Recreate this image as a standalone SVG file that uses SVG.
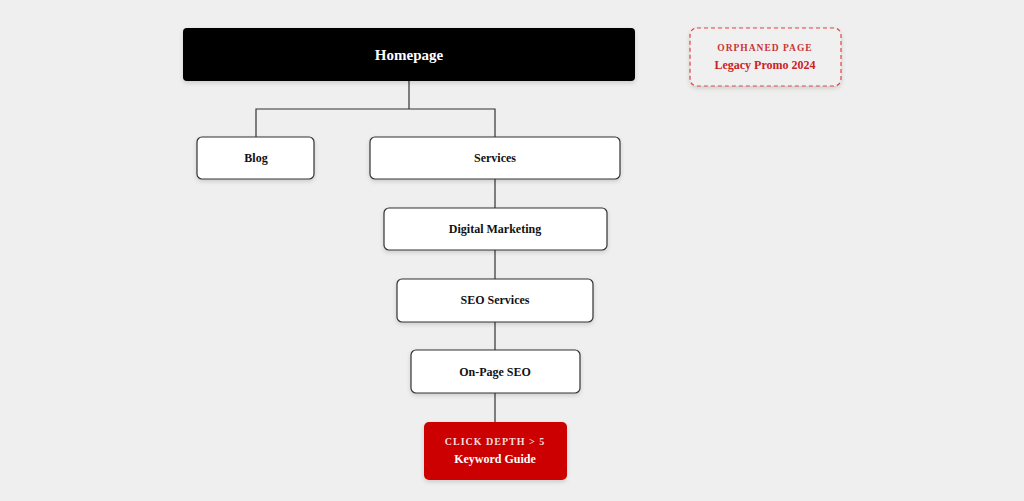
<svg xmlns="http://www.w3.org/2000/svg" width="1024" height="501" viewBox="0 0 1024 501">
<defs>
<style>
.n{fill:#fff;stroke:#333;stroke-width:1.2}
.t{font-family:"Liberation Serif",serif;font-weight:bold;font-size:12px;fill:#111;text-anchor:middle}
.c{fill:none;stroke:#333;stroke-width:1.2}
</style>
<filter id="sh" x="-20%" y="-30%" width="140%" height="160%"><feDropShadow dx="0" dy="2" stdDeviation="2" flood-opacity="0.15"/></filter>
</defs>
<rect width="1024" height="501" fill="#efefef"/>
<g id="connectors" class="c">
<path d="M409 81V109H256V137M409 109H495V137"/>
<path d="M495 179V208M495 250V279M495 322V350M495 393V422"/>
</g>
<g id="homepage"><rect x="183" y="28" width="452" height="53" rx="4" fill="#000" filter="url(#sh)"/><text x="409" y="60" class="t" style="fill:#fff;font-size:15px">Homepage</text></g>
<g id="blog"><rect class="n" x="197" y="137" width="117" height="42" rx="5" filter="url(#sh)"/><text x="256" y="162" class="t">Blog</text></g>
<g id="services"><rect class="n" x="370" y="137" width="250" height="42" rx="5" filter="url(#sh)"/><text x="495" y="162" class="t">Services</text></g>
<g id="digital"><rect class="n" x="384" y="208" width="223" height="42" rx="5" filter="url(#sh)"/><text x="495" y="233" class="t">Digital Marketing</text></g>
<g id="seo"><rect class="n" x="397" y="279" width="196" height="43" rx="5" filter="url(#sh)"/><text x="495" y="304" class="t">SEO Services</text></g>
<g id="onpage"><rect class="n" x="411" y="350" width="169" height="43" rx="5" filter="url(#sh)"/><text x="495" y="376" class="t">On-Page SEO</text></g>
<g id="keyword"><rect x="424" y="422" width="143" height="58" rx="5" fill="#cc0000" filter="url(#sh)"/><text x="495" y="445" class="t" style="fill:#f3dede;font-size:10px;letter-spacing:1px">CLICK DEPTH &gt; 5</text><text x="495" y="463" class="t" style="fill:#fff">Keyword Guide</text></g>
<g id="orphan"><rect x="690" y="28" width="151" height="58" rx="7" fill="#f0f0f0" stroke="#d44" stroke-width="1.2" stroke-dasharray="4 3" filter="url(#sh)"/><text x="765" y="51" class="t" style="fill:#c33;font-size:9.5px;letter-spacing:1px">ORPHANED PAGE</text><text x="765" y="69" class="t" style="fill:#c22">Legacy Promo 2024</text></g>
</svg>
